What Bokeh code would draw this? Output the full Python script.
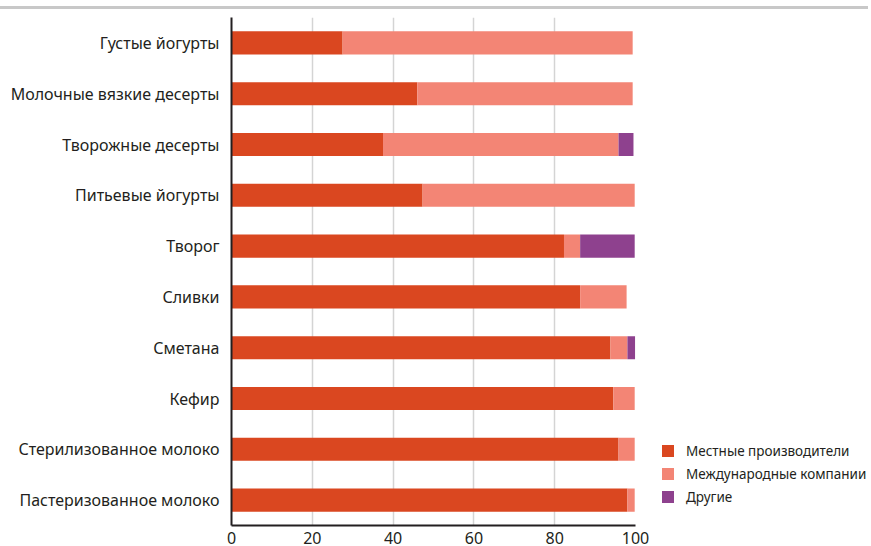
from bokeh.plotting import figure
from bokeh.models import Legend, LegendItem, Div, ColumnDataSource, FactorRange, Range1d, FixedTicker
from bokeh.layouts import column
from bokeh.embed import file_html
from bokeh.resources import INLINE

categories = ["Густые йогурты", "Молочные вязкие десерты", "Творожные десерты",
              "Питьевые йогурты", "Творог", "Сливки", "Сметана", "Кефир",
              "Стерилизованное молоко", "Пастеризованное молоко"]
local = [27.5, 46.0, 37.5, 47.3, 82.3, 86.3, 93.8, 94.5, 95.8, 98.0]
intl = [71.8, 53.3, 58.3, 52.5, 4.0, 11.5, 4.2, 5.3, 4.0, 1.8]
other = [0.0, 0.0, 3.7, 0.0, 13.5, 0.0, 1.9, 0.0, 0.0, 0.0]
series = ["Местные производители", "Международные компании", "Другие"]
x_ticks = [0, 20, 40, 60, 80, 100]

colors = ["#da4720", "#f38575", "#8e418e"]
FONT = "Noto Sans"
TXT = "#231f20"

source = ColumnDataSource(dict(cat=categories, local=local, intl=intl, other=other))

p = figure(frame_width=404, height=537, output_backend="svg", toolbar_location=None,
           y_range=FactorRange(factors=list(reversed(categories))),
           x_range=Range1d(0, 100),
           min_border_left=231, min_border_right=0, min_border_top=8,
           min_border_bottom=0)
p.outline_line_color = None
p.background_fill_color = "white"
p.border_fill_color = "white"

rs = p.hbar_stack(["local", "intl", "other"], y="cat", height=0.455,
                  color=colors, line_width=0, source=source)

p.xgrid.grid_line_color = "#d4d4d4"
p.xgrid.grid_line_width = 1.5
p.ygrid.grid_line_color = None

p.xaxis.ticker = FixedTicker(ticks=x_ticks)
p.xaxis.major_tick_line_color = None
p.xaxis.minor_tick_line_color = None
p.xaxis.axis_line_color = TXT
p.xaxis.axis_line_width = 2
p.xaxis.major_label_text_font = FONT
p.xaxis.major_label_text_font_size = "16px"
p.xaxis.major_label_text_color = TXT
p.xaxis.major_label_standoff = 0

p.yaxis.major_tick_line_color = None
p.yaxis.minor_tick_line_color = None
p.yaxis.axis_line_color = TXT
p.yaxis.axis_line_width = 2
p.yaxis.major_label_text_font = FONT
p.yaxis.major_label_text_font_size = "16px"
p.yaxis.major_label_text_color = TXT
p.yaxis.major_label_standoff = 6

legend = Legend(items=[LegendItem(label=s, renderers=[r]) for s, r in zip(series, rs)],
                location=(25, 18), orientation="vertical")
legend.border_line_color = None
legend.background_fill_alpha = 0
legend.padding = 0
legend.margin = 0
legend.glyph_width = 15
legend.glyph_height = 15
legend.label_height = 21
legend.spacing = 2
legend.label_standoff = 11
legend.label_text_font = FONT
legend.label_text_font_size = "13.5px"
legend.label_text_color = TXT
p.add_layout(legend, "right")

top_line = Div(text="", width=868, height=3, margin=(6, 0, 0, 0),
               styles={"background-color": "#c8c8c8"})

layout = column(top_line, p, spacing=0)
open("out.html", "w").write(file_html(layout, INLINE))
